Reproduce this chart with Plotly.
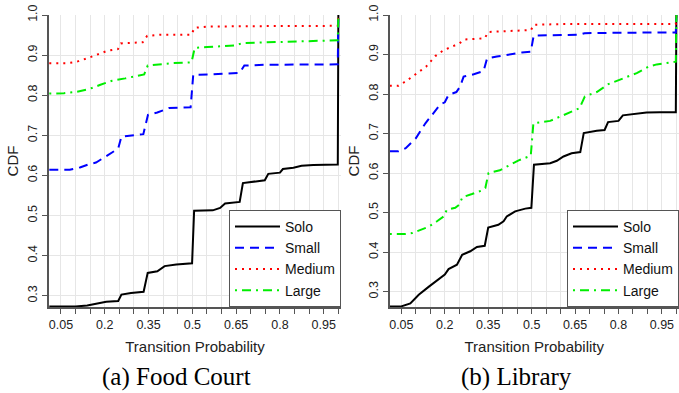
import plotly.graph_objects as go

# ---------------- data ----------------
series_names = ["Solo", "Small", "Medium", "Large"]
series_colors = ["#000000", "#0000ff", "#ff0000", "#00ee00"]
series_dash = ["solid", "9px,6px", "2px,5px", "2px,5px,9px,5px"]

# (a) Food Court
fc_solo_x = [0.01, 0.10, 0.14, 0.17, 0.205, 0.246, 0.257, 0.29, 0.333, 0.347, 0.38, 0.405, 0.445, 0.499, 0.506,
             0.57, 0.595, 0.612, 0.662, 0.673, 0.72, 0.748, 0.76, 0.80, 0.81, 0.846, 0.874, 0.914, 0.998, 1.0]
fc_solo_y = [0.273, 0.273, 0.276, 0.280, 0.285, 0.287, 0.303, 0.307, 0.310, 0.357, 0.361, 0.374, 0.378, 0.381, 0.512,
             0.513, 0.519, 0.530, 0.534, 0.581, 0.585, 0.588, 0.604, 0.607, 0.616, 0.619, 0.624, 0.626, 0.627, 1.0]
fc_small_x = [0.01, 0.08, 0.115, 0.15, 0.17, 0.205, 0.23, 0.246, 0.257, 0.30, 0.332, 0.348, 0.38, 0.42, 0.494,
              0.503, 0.57, 0.662, 0.678, 0.75, 0.998, 1.0]
fc_small_y = [0.614, 0.614, 0.620, 0.629, 0.632, 0.649, 0.660, 0.667, 0.697, 0.700, 0.703, 0.751, 0.757, 0.768, 0.770,
              0.851, 0.852, 0.856, 0.874, 0.876, 0.877, 1.0]
fc_medium_x = [0.01, 0.07, 0.09, 0.11, 0.14, 0.18, 0.21, 0.245, 0.255, 0.33, 0.345, 0.39, 0.497, 0.507, 0.55,
               0.66, 0.998, 1.0]
fc_medium_y = [0.880, 0.880, 0.882, 0.885, 0.892, 0.903, 0.911, 0.915, 0.929, 0.932, 0.948, 0.951, 0.951, 0.968, 0.971,
               0.972, 0.973, 1.0]
fc_large_x = [0.01, 0.06, 0.10, 0.145, 0.185, 0.225, 0.27, 0.335, 0.347, 0.39, 0.43, 0.497, 0.508, 0.55, 0.645,
              0.672, 0.75, 0.85, 0.998, 1.0]
fc_large_y = [0.804, 0.805, 0.808, 0.815, 0.826, 0.836, 0.842, 0.852, 0.874, 0.878, 0.880, 0.882, 0.918, 0.920, 0.924,
              0.930, 0.932, 0.935, 0.937, 1.0]

# (b) Library
lib_solo_x = [0.01, 0.047, 0.081, 0.11, 0.144, 0.179, 0.20, 0.213, 0.242, 0.26, 0.288, 0.311, 0.338, 0.35, 0.385,
              0.403, 0.414, 0.443, 0.478, 0.499, 0.508, 0.564, 0.587, 0.61, 0.638, 0.668, 0.68, 0.725, 0.752, 0.764,
              0.80, 0.815, 0.85, 0.897, 0.943, 0.998, 1.0]
lib_solo_y = [0.262, 0.262, 0.270, 0.292, 0.312, 0.332, 0.343, 0.357, 0.368, 0.393, 0.402, 0.413, 0.416, 0.462, 0.469,
              0.478, 0.490, 0.503, 0.510, 0.512, 0.621, 0.625, 0.631, 0.642, 0.650, 0.653, 0.701, 0.707, 0.709, 0.729,
              0.732, 0.746, 0.749, 0.753, 0.754, 0.754, 1.0]
lib_small_x = [0.01, 0.04, 0.065, 0.10, 0.133, 0.167, 0.185, 0.20, 0.213, 0.24, 0.253, 0.265, 0.30, 0.334, 0.346,
               0.38, 0.42, 0.466, 0.497, 0.507, 0.665, 0.683, 0.80, 0.998, 1.0]
lib_small_y = [0.655, 0.655, 0.663, 0.688, 0.726, 0.756, 0.774, 0.779, 0.798, 0.805, 0.819, 0.844, 0.850, 0.858, 0.890,
               0.895, 0.900, 0.905, 0.907, 0.948, 0.950, 0.954, 0.955, 0.956, 1.0]
lib_medium_x = [0.01, 0.04, 0.065, 0.10, 0.135, 0.167, 0.196, 0.225, 0.25, 0.268, 0.338, 0.35, 0.40, 0.498, 0.506,
                0.60, 0.998, 1.0]
lib_medium_y = [0.821, 0.821, 0.832, 0.850, 0.869, 0.896, 0.911, 0.920, 0.928, 0.938, 0.941, 0.957, 0.959, 0.962, 0.975,
                0.977, 0.977, 1.0]
lib_large_x = [0.01, 0.065, 0.087, 0.11, 0.144, 0.173, 0.196, 0.207, 0.236, 0.25, 0.261, 0.294, 0.328, 0.34, 0.351,
               0.39, 0.42, 0.455, 0.497, 0.506, 0.564, 0.598, 0.638, 0.665, 0.684, 0.725, 0.765, 0.817, 0.863, 0.903,
               0.932, 0.998, 1.0]
lib_large_y = [0.446, 0.446, 0.448, 0.455, 0.464, 0.478, 0.490, 0.507, 0.512, 0.520, 0.539, 0.547, 0.556, 0.562, 0.600,
               0.607, 0.618, 0.632, 0.644, 0.726, 0.732, 0.743, 0.756, 0.764, 0.794, 0.805, 0.825, 0.840, 0.853, 0.869,
               0.875, 0.882, 1.0]

x_tick_vals = [0.05, 0.10, 0.15, 0.20, 0.25, 0.30, 0.35, 0.40, 0.45, 0.50,
               0.55, 0.60, 0.65, 0.70, 0.75, 0.80, 0.85, 0.90, 0.95, 1.00]
x_tick_text = ["0.05", "", "", "0.2", "", "", "0.35", "", "", "0.5",
               "", "", "0.65", "", "", "0.8", "", "", "0.95", ""]
y_tick_vals = [0.3, 0.4, 0.5, 0.6, 0.7, 0.8, 0.9, 1.0]
y_tick_text = ["0.3", "0.4", "0.5", "0.6", "0.7", "0.8", "0.9", "1.0"]

captions = ["(a) Food Court", "(b) Library"]
x_title = "Transition Probability"
y_title = "CDF"

# ---------------- figure ----------------
W, H = 679, 393
fig = go.Figure()

panels = [
    ([fc_solo_x, fc_small_x, fc_medium_x, fc_large_x],
     [fc_solo_y, fc_small_y, fc_medium_y, fc_large_y], "x", "y", "legend"),
    ([lib_solo_x, lib_small_x, lib_medium_x, lib_large_x],
     [lib_solo_y, lib_small_y, lib_medium_y, lib_large_y], "x2", "y2", "legend2"),
]
for xs, ys, xa, ya, lg in panels:
    for i in range(4):
        fig.add_trace(go.Scatter(
            x=xs[i], y=ys[i], mode="lines", name=series_names[i],
            xaxis=xa, yaxis=ya, legend=lg,
            line=dict(color=series_colors[i], width=2, dash=series_dash[i]),
        ))

font_main = "Liberation Sans, Arial, Helvetica, sans-serif"
axis_common = dict(
    showline=True, linecolor="#555555", linewidth=1.5,
    ticks="outside", ticklen=5, tickcolor="#555555", tickwidth=1,
    showgrid=True, gridcolor="#e6e6e6", gridwidth=1, zeroline=False,
    tickfont=dict(family=font_main, size=12.5, color="#222222"),
)

xdom1 = [49 / W, 341 / W]
xdom2 = [389.5 / W, 1.0]

xaxis_cfg = dict(axis_common, range=[0.009, 1.009], tickmode="array",
                 tickvals=x_tick_vals, ticktext=x_tick_text,
                 title=dict(text=x_title, font=dict(family=font_main, size=15, color="#222222"), standoff=11))
fig.update_layout(
    xaxis=dict(xaxis_cfg, domain=xdom1, anchor="y"),
    xaxis2=dict(xaxis_cfg, domain=xdom2, anchor="y2"),
    yaxis=dict(axis_common, range=[0.272, 1.0], domain=[0, 1], anchor="x",
               tickmode="array", tickvals=y_tick_vals, ticktext=y_tick_text, tickangle=-90,
               title=dict(text=y_title, font=dict(family=font_main, size=15, color="#222222"), standoff=4)),
    yaxis2=dict(axis_common, range=[0.261, 1.0], domain=[0, 1], anchor="x2",
                tickmode="array", tickvals=y_tick_vals, ticktext=y_tick_text, tickangle=-90,
                title=dict(text=y_title, font=dict(family=font_main, size=15, color="#222222"), standoff=4)),
)

legend_common = dict(
    xref="paper", yref="paper", xanchor="right", yanchor="bottom", y=0,
    bgcolor="white", bordercolor="#555555", borderwidth=1,
    font=dict(family=font_main, size=14, color="#111111"),
    itemwidth=45, tracegroupgap=0,
)
fig.update_layout(
    legend=dict(legend_common, x=341 / W),
    legend2=dict(legend_common, x=1.0),
)

for cap, cx in zip(captions, [176, 516]):
    fig.add_annotation(text=cap, xref="paper", yref="paper",
                       x=cx / W, y=(307 - 377) / 292, xanchor="center", yanchor="middle",
                       showarrow=False, borderpad=0,
                       font=dict(family="Liberation Serif, Times New Roman, serif", size=25, color="#000000"))

fig.update_layout(
    width=W, height=H,
    margin=dict(l=0, r=0, t=15, b=86),
    paper_bgcolor="white", plot_bgcolor="white",
    showlegend=True,
)

fig.write_html("out.html")
